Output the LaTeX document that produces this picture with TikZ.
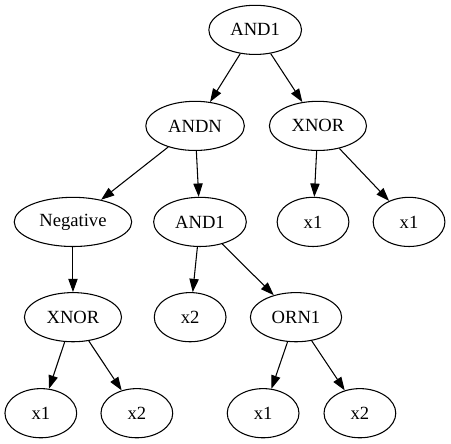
\documentclass[tikz,border=0pt]{standalone}
\usepackage{fontspec}
\setmainfont{Liberation Serif}
\usetikzlibrary{shapes.geometric,arrows.meta}

\begin{document}
\begin{tikzpicture}

        \useasboundingbox (0,0) rectangle (11.93,-11.72);

        \begin{scope}[every node/.style={ellipse,draw,line width=0.8pt,
            inner xsep=6pt,inner ysep=1pt,minimum width=54pt,minimum height=37pt,
            font=\fontsize{14}{16}\selectfont}]
          \node (1)  at (6.75,-0.79)  {AND1};
          \node (2)  at (5.16,-3.33)  {ANDN};
          \node (3)  at (8.41,-3.33)  {XNOR};
          \node (4)  at (1.93,-5.87)  {Negative};
          \node (5)  at (5.29,-5.87)  {AND1};
          \node (6)  at (8.28,-5.87)  {x1};
          \node (7)  at (10.82,-5.87) {x1};
          \node (8)  at (1.93,-8.39)  {XNOR};
          \node (9)  at (5.03,-8.39)  {x2};
          \node (10) at (7.83,-8.39)  {ORN1};
          \node (11) at (1.08,-10.93) {x1};
          \node (12) at (3.62,-10.93) {x2};
          \node (13) at (6.96,-10.93) {x1};
          \node (14) at (9.52,-10.93) {x2};
        \end{scope}

        \begin{scope}[every edge/.style={draw,line width=0.8pt,-{Triangle[length=10pt,width=7pt]}}]
          \path (1)  edge (2);
          \path (1)  edge (3);
          \path (2)  edge (4);
          \path (2)  edge (5);
          \path (3)  edge (6);
          \path (3)  edge (7);
          \path (4)  edge (8);
          \path (5)  edge (9);
          \path (5)  edge (10);
          \path (8)  edge (11);
          \path (8)  edge (12);
          \path (10) edge (13);
          \path (10) edge (14);
        \end{scope}

      \end{tikzpicture}
\end{document}
